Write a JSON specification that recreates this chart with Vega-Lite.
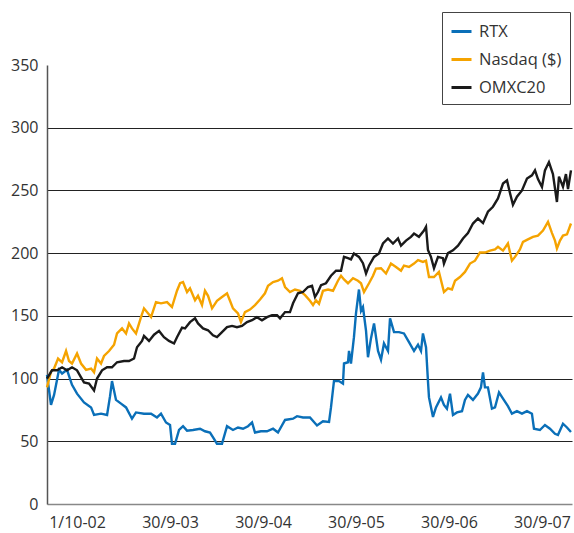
{
  "$schema": "https://vega.github.io/schema/vega-lite/v6.json",
  "width": 525,
  "height": 439,
  "autosize": {"type": "none"},
  "padding": {"left": 47, "top": 65, "right": 2, "bottom": 29},
  "background": "white",
  "config": {"view": {"stroke": null}, "font": "Open Sans"},
  "data": {"values": [
{"s":"RTX","t":2002.427,"v":103},{"s":"RTX","t":2002.470,"v":79},{"s":"RTX","t":2002.503,"v":87},{"s":"RTX","t":2002.556,"v":107},{"s":"RTX","t":2002.589,"v":104},{"s":"RTX","t":2002.642,"v":107},{"s":"RTX","t":2002.696,"v":95},{"s":"RTX","t":2002.750,"v":88},{"s":"RTX","t":2002.825,"v":81},{"s":"RTX","t":2002.901,"v":77},{"s":"RTX","t":2002.933,"v":71},{"s":"RTX","t":2003.008,"v":72},{"s":"RTX","t":2003.073,"v":71},{"s":"RTX","t":2003.105,"v":86},{"s":"RTX","t":2003.126,"v":98},{"s":"RTX","t":2003.169,"v":83},{"s":"RTX","t":2003.223,"v":80},{"s":"RTX","t":2003.277,"v":77},{"s":"RTX","t":2003.341,"v":68},{"s":"RTX","t":2003.384,"v":73},{"s":"RTX","t":2003.470,"v":72},{"s":"RTX","t":2003.546,"v":72},{"s":"RTX","t":2003.610,"v":69},{"s":"RTX","t":2003.653,"v":72},{"s":"RTX","t":2003.707,"v":65},{"s":"RTX","t":2003.750,"v":63},{"s":"RTX","t":2003.771,"v":48},{"s":"RTX","t":2003.804,"v":48},{"s":"RTX","t":2003.847,"v":59},{"s":"RTX","t":2003.890,"v":62},{"s":"RTX","t":2003.933,"v":58.5},{"s":"RTX","t":2003.997,"v":59},{"s":"RTX","t":2004.073,"v":60},{"s":"RTX","t":2004.126,"v":58},{"s":"RTX","t":2004.180,"v":57},{"s":"RTX","t":2004.223,"v":52},{"s":"RTX","t":2004.255,"v":48},{"s":"RTX","t":2004.309,"v":48},{"s":"RTX","t":2004.363,"v":62},{"s":"RTX","t":2004.427,"v":59},{"s":"RTX","t":2004.481,"v":61},{"s":"RTX","t":2004.535,"v":60},{"s":"RTX","t":2004.589,"v":62},{"s":"RTX","t":2004.632,"v":65},{"s":"RTX","t":2004.664,"v":57},{"s":"RTX","t":2004.728,"v":58},{"s":"RTX","t":2004.793,"v":58},{"s":"RTX","t":2004.858,"v":60},{"s":"RTX","t":2004.911,"v":57},{"s":"RTX","t":2004.987,"v":67},{"s":"RTX","t":2005.073,"v":68},{"s":"RTX","t":2005.116,"v":70},{"s":"RTX","t":2005.180,"v":69},{"s":"RTX","t":2005.255,"v":69},{"s":"RTX","t":2005.331,"v":62.6},{"s":"RTX","t":2005.395,"v":66},{"s":"RTX","t":2005.460,"v":65.5},{"s":"RTX","t":2005.481,"v":77},{"s":"RTX","t":2005.513,"v":98},{"s":"RTX","t":2005.567,"v":98},{"s":"RTX","t":2005.610,"v":96},{"s":"RTX","t":2005.621,"v":112},{"s":"RTX","t":2005.664,"v":113},{"s":"RTX","t":2005.675,"v":122},{"s":"RTX","t":2005.696,"v":112},{"s":"RTX","t":2005.728,"v":133},{"s":"RTX","t":2005.750,"v":152},{"s":"RTX","t":2005.782,"v":171},{"s":"RTX","t":2005.804,"v":154},{"s":"RTX","t":2005.825,"v":157},{"s":"RTX","t":2005.858,"v":138},{"s":"RTX","t":2005.879,"v":117},{"s":"RTX","t":2005.911,"v":132},{"s":"RTX","t":2005.944,"v":144},{"s":"RTX","t":2005.987,"v":122},{"s":"RTX","t":2006.019,"v":115},{"s":"RTX","t":2006.051,"v":128},{"s":"RTX","t":2006.094,"v":122},{"s":"RTX","t":2006.116,"v":148},{"s":"RTX","t":2006.159,"v":137},{"s":"RTX","t":2006.212,"v":137},{"s":"RTX","t":2006.266,"v":136},{"s":"RTX","t":2006.320,"v":129},{"s":"RTX","t":2006.374,"v":122},{"s":"RTX","t":2006.417,"v":127},{"s":"RTX","t":2006.449,"v":122},{"s":"RTX","t":2006.470,"v":136},{"s":"RTX","t":2006.503,"v":125},{"s":"RTX","t":2006.524,"v":98},{"s":"RTX","t":2006.535,"v":85},{"s":"RTX","t":2006.578,"v":69.4},{"s":"RTX","t":2006.610,"v":77},{"s":"RTX","t":2006.664,"v":85},{"s":"RTX","t":2006.696,"v":79},{"s":"RTX","t":2006.728,"v":76},{"s":"RTX","t":2006.761,"v":88},{"s":"RTX","t":2006.793,"v":71},{"s":"RTX","t":2006.836,"v":73},{"s":"RTX","t":2006.890,"v":74},{"s":"RTX","t":2006.922,"v":83},{"s":"RTX","t":2006.954,"v":87},{"s":"RTX","t":2007.008,"v":83},{"s":"RTX","t":2007.062,"v":88},{"s":"RTX","t":2007.094,"v":93},{"s":"RTX","t":2007.116,"v":105},{"s":"RTX","t":2007.137,"v":93},{"s":"RTX","t":2007.169,"v":93},{"s":"RTX","t":2007.212,"v":76},{"s":"RTX","t":2007.245,"v":77},{"s":"RTX","t":2007.288,"v":89},{"s":"RTX","t":2007.331,"v":84},{"s":"RTX","t":2007.384,"v":78},{"s":"RTX","t":2007.427,"v":72},{"s":"RTX","t":2007.481,"v":74},{"s":"RTX","t":2007.535,"v":72},{"s":"RTX","t":2007.589,"v":74},{"s":"RTX","t":2007.642,"v":72},{"s":"RTX","t":2007.664,"v":60},{"s":"RTX","t":2007.728,"v":59},{"s":"RTX","t":2007.782,"v":63},{"s":"RTX","t":2007.836,"v":60},{"s":"RTX","t":2007.890,"v":56},{"s":"RTX","t":2007.922,"v":55},{"s":"RTX","t":2007.976,"v":64},{"s":"RTX","t":2008.019,"v":61},{"s":"RTX","t":2008.062,"v":57.4},
{"s":"Nasdaq ($)","t":2002.427,"v":93},{"s":"Nasdaq ($)","t":2002.470,"v":105.5},{"s":"Nasdaq ($)","t":2002.503,"v":108},{"s":"Nasdaq ($)","t":2002.546,"v":116},{"s":"Nasdaq ($)","t":2002.589,"v":113},{"s":"Nasdaq ($)","t":2002.632,"v":122},{"s":"Nasdaq ($)","t":2002.664,"v":114},{"s":"Nasdaq ($)","t":2002.696,"v":112},{"s":"Nasdaq ($)","t":2002.750,"v":120},{"s":"Nasdaq ($)","t":2002.793,"v":112},{"s":"Nasdaq ($)","t":2002.847,"v":107},{"s":"Nasdaq ($)","t":2002.901,"v":108},{"s":"Nasdaq ($)","t":2002.933,"v":105},{"s":"Nasdaq ($)","t":2002.965,"v":116},{"s":"Nasdaq ($)","t":2003.008,"v":112},{"s":"Nasdaq ($)","t":2003.040,"v":118},{"s":"Nasdaq ($)","t":2003.094,"v":122},{"s":"Nasdaq ($)","t":2003.148,"v":127},{"s":"Nasdaq ($)","t":2003.180,"v":136},{"s":"Nasdaq ($)","t":2003.234,"v":140},{"s":"Nasdaq ($)","t":2003.277,"v":136},{"s":"Nasdaq ($)","t":2003.309,"v":144},{"s":"Nasdaq ($)","t":2003.341,"v":140},{"s":"Nasdaq ($)","t":2003.384,"v":136},{"s":"Nasdaq ($)","t":2003.438,"v":149},{"s":"Nasdaq ($)","t":2003.470,"v":156},{"s":"Nasdaq ($)","t":2003.546,"v":149},{"s":"Nasdaq ($)","t":2003.599,"v":161},{"s":"Nasdaq ($)","t":2003.653,"v":160},{"s":"Nasdaq ($)","t":2003.718,"v":161},{"s":"Nasdaq ($)","t":2003.771,"v":157},{"s":"Nasdaq ($)","t":2003.825,"v":170},{"s":"Nasdaq ($)","t":2003.858,"v":176},{"s":"Nasdaq ($)","t":2003.890,"v":177},{"s":"Nasdaq ($)","t":2003.933,"v":169},{"s":"Nasdaq ($)","t":2003.965,"v":172},{"s":"Nasdaq ($)","t":2004.019,"v":162.5},{"s":"Nasdaq ($)","t":2004.051,"v":166},{"s":"Nasdaq ($)","t":2004.094,"v":158.6},{"s":"Nasdaq ($)","t":2004.126,"v":170},{"s":"Nasdaq ($)","t":2004.159,"v":166},{"s":"Nasdaq ($)","t":2004.202,"v":156},{"s":"Nasdaq ($)","t":2004.255,"v":162},{"s":"Nasdaq ($)","t":2004.309,"v":165},{"s":"Nasdaq ($)","t":2004.363,"v":168},{"s":"Nasdaq ($)","t":2004.395,"v":162},{"s":"Nasdaq ($)","t":2004.427,"v":156},{"s":"Nasdaq ($)","t":2004.481,"v":152},{"s":"Nasdaq ($)","t":2004.513,"v":145},{"s":"Nasdaq ($)","t":2004.556,"v":153},{"s":"Nasdaq ($)","t":2004.610,"v":155},{"s":"Nasdaq ($)","t":2004.664,"v":158.6},{"s":"Nasdaq ($)","t":2004.718,"v":163},{"s":"Nasdaq ($)","t":2004.771,"v":168},{"s":"Nasdaq ($)","t":2004.804,"v":174},{"s":"Nasdaq ($)","t":2004.858,"v":177},{"s":"Nasdaq ($)","t":2004.911,"v":178},{"s":"Nasdaq ($)","t":2004.954,"v":180},{"s":"Nasdaq ($)","t":2004.987,"v":173},{"s":"Nasdaq ($)","t":2005.040,"v":169},{"s":"Nasdaq ($)","t":2005.094,"v":171},{"s":"Nasdaq ($)","t":2005.148,"v":170},{"s":"Nasdaq ($)","t":2005.202,"v":166.5},{"s":"Nasdaq ($)","t":2005.255,"v":162},{"s":"Nasdaq ($)","t":2005.288,"v":158.6},{"s":"Nasdaq ($)","t":2005.320,"v":162.5},{"s":"Nasdaq ($)","t":2005.352,"v":159.7},{"s":"Nasdaq ($)","t":2005.395,"v":170},{"s":"Nasdaq ($)","t":2005.449,"v":171},{"s":"Nasdaq ($)","t":2005.503,"v":170},{"s":"Nasdaq ($)","t":2005.556,"v":178},{"s":"Nasdaq ($)","t":2005.589,"v":182},{"s":"Nasdaq ($)","t":2005.621,"v":179},{"s":"Nasdaq ($)","t":2005.664,"v":176},{"s":"Nasdaq ($)","t":2005.718,"v":180},{"s":"Nasdaq ($)","t":2005.771,"v":178},{"s":"Nasdaq ($)","t":2005.804,"v":176},{"s":"Nasdaq ($)","t":2005.836,"v":169},{"s":"Nasdaq ($)","t":2005.890,"v":176},{"s":"Nasdaq ($)","t":2005.933,"v":182},{"s":"Nasdaq ($)","t":2005.965,"v":187.7},{"s":"Nasdaq ($)","t":2006.019,"v":188},{"s":"Nasdaq ($)","t":2006.073,"v":183.8},{"s":"Nasdaq ($)","t":2006.126,"v":191.7},{"s":"Nasdaq ($)","t":2006.180,"v":189},{"s":"Nasdaq ($)","t":2006.234,"v":186},{"s":"Nasdaq ($)","t":2006.266,"v":190},{"s":"Nasdaq ($)","t":2006.320,"v":189},{"s":"Nasdaq ($)","t":2006.374,"v":191.7},{"s":"Nasdaq ($)","t":2006.417,"v":194.4},{"s":"Nasdaq ($)","t":2006.470,"v":193},{"s":"Nasdaq ($)","t":2006.503,"v":194},{"s":"Nasdaq ($)","t":2006.535,"v":181},{"s":"Nasdaq ($)","t":2006.589,"v":181},{"s":"Nasdaq ($)","t":2006.642,"v":185},{"s":"Nasdaq ($)","t":2006.696,"v":169},{"s":"Nasdaq ($)","t":2006.739,"v":172},{"s":"Nasdaq ($)","t":2006.782,"v":171},{"s":"Nasdaq ($)","t":2006.815,"v":178},{"s":"Nasdaq ($)","t":2006.868,"v":181},{"s":"Nasdaq ($)","t":2006.922,"v":185},{"s":"Nasdaq ($)","t":2006.976,"v":191.7},{"s":"Nasdaq ($)","t":2007.030,"v":194},{"s":"Nasdaq ($)","t":2007.083,"v":200.5},{"s":"Nasdaq ($)","t":2007.137,"v":200.5},{"s":"Nasdaq ($)","t":2007.191,"v":202},{"s":"Nasdaq ($)","t":2007.245,"v":203},{"s":"Nasdaq ($)","t":2007.277,"v":205},{"s":"Nasdaq ($)","t":2007.331,"v":202},{"s":"Nasdaq ($)","t":2007.384,"v":207.7},{"s":"Nasdaq ($)","t":2007.427,"v":194},{"s":"Nasdaq ($)","t":2007.460,"v":197},{"s":"Nasdaq ($)","t":2007.513,"v":203},{"s":"Nasdaq ($)","t":2007.546,"v":209},{"s":"Nasdaq ($)","t":2007.599,"v":211},{"s":"Nasdaq ($)","t":2007.653,"v":213},{"s":"Nasdaq ($)","t":2007.707,"v":214},{"s":"Nasdaq ($)","t":2007.761,"v":218},{"s":"Nasdaq ($)","t":2007.815,"v":225},{"s":"Nasdaq ($)","t":2007.858,"v":216},{"s":"Nasdaq ($)","t":2007.890,"v":210},{"s":"Nasdaq ($)","t":2007.911,"v":203.7},{"s":"Nasdaq ($)","t":2007.944,"v":210},{"s":"Nasdaq ($)","t":2007.976,"v":214},{"s":"Nasdaq ($)","t":2008.019,"v":215},{"s":"Nasdaq ($)","t":2008.062,"v":223.6},
{"s":"OMXC20","t":2002.427,"v":100},{"s":"OMXC20","t":2002.481,"v":106.6},{"s":"OMXC20","t":2002.535,"v":106.6},{"s":"OMXC20","t":2002.589,"v":109},{"s":"OMXC20","t":2002.642,"v":106.6},{"s":"OMXC20","t":2002.696,"v":109},{"s":"OMXC20","t":2002.750,"v":106.6},{"s":"OMXC20","t":2002.793,"v":101},{"s":"OMXC20","t":2002.825,"v":97},{"s":"OMXC20","t":2002.879,"v":96},{"s":"OMXC20","t":2002.933,"v":90.5},{"s":"OMXC20","t":2002.965,"v":100},{"s":"OMXC20","t":2003.019,"v":106.6},{"s":"OMXC20","t":2003.073,"v":109},{"s":"OMXC20","t":2003.126,"v":109},{"s":"OMXC20","t":2003.180,"v":113},{"s":"OMXC20","t":2003.255,"v":114},{"s":"OMXC20","t":2003.309,"v":114},{"s":"OMXC20","t":2003.363,"v":116},{"s":"OMXC20","t":2003.395,"v":125},{"s":"OMXC20","t":2003.449,"v":130},{"s":"OMXC20","t":2003.470,"v":134},{"s":"OMXC20","t":2003.524,"v":130},{"s":"OMXC20","t":2003.578,"v":135},{"s":"OMXC20","t":2003.632,"v":138},{"s":"OMXC20","t":2003.685,"v":133},{"s":"OMXC20","t":2003.739,"v":130},{"s":"OMXC20","t":2003.793,"v":128},{"s":"OMXC20","t":2003.825,"v":133},{"s":"OMXC20","t":2003.879,"v":140.6},{"s":"OMXC20","t":2003.911,"v":140},{"s":"OMXC20","t":2003.965,"v":145},{"s":"OMXC20","t":2004.019,"v":148},{"s":"OMXC20","t":2004.051,"v":144},{"s":"OMXC20","t":2004.105,"v":140},{"s":"OMXC20","t":2004.159,"v":138.5},{"s":"OMXC20","t":2004.212,"v":134.5},{"s":"OMXC20","t":2004.255,"v":133},{"s":"OMXC20","t":2004.309,"v":137},{"s":"OMXC20","t":2004.363,"v":141},{"s":"OMXC20","t":2004.417,"v":142},{"s":"OMXC20","t":2004.470,"v":141},{"s":"OMXC20","t":2004.524,"v":142},{"s":"OMXC20","t":2004.578,"v":145},{"s":"OMXC20","t":2004.632,"v":146.5},{"s":"OMXC20","t":2004.685,"v":149},{"s":"OMXC20","t":2004.739,"v":146.5},{"s":"OMXC20","t":2004.793,"v":149},{"s":"OMXC20","t":2004.847,"v":150.5},{"s":"OMXC20","t":2004.901,"v":150.5},{"s":"OMXC20","t":2004.933,"v":148},{"s":"OMXC20","t":2004.987,"v":153},{"s":"OMXC20","t":2005.040,"v":153},{"s":"OMXC20","t":2005.073,"v":160},{"s":"OMXC20","t":2005.126,"v":168},{"s":"OMXC20","t":2005.180,"v":169},{"s":"OMXC20","t":2005.234,"v":173},{"s":"OMXC20","t":2005.277,"v":174},{"s":"OMXC20","t":2005.309,"v":165},{"s":"OMXC20","t":2005.341,"v":169},{"s":"OMXC20","t":2005.374,"v":174.4},{"s":"OMXC20","t":2005.427,"v":176},{"s":"OMXC20","t":2005.481,"v":182},{"s":"OMXC20","t":2005.535,"v":186},{"s":"OMXC20","t":2005.589,"v":186},{"s":"OMXC20","t":2005.621,"v":197},{"s":"OMXC20","t":2005.664,"v":196},{"s":"OMXC20","t":2005.696,"v":195},{"s":"OMXC20","t":2005.728,"v":199.7},{"s":"OMXC20","t":2005.782,"v":197},{"s":"OMXC20","t":2005.825,"v":192},{"s":"OMXC20","t":2005.858,"v":183.7},{"s":"OMXC20","t":2005.890,"v":190},{"s":"OMXC20","t":2005.944,"v":197},{"s":"OMXC20","t":2005.997,"v":199.7},{"s":"OMXC20","t":2006.040,"v":207.7},{"s":"OMXC20","t":2006.094,"v":211.7},{"s":"OMXC20","t":2006.148,"v":207.7},{"s":"OMXC20","t":2006.202,"v":211.7},{"s":"OMXC20","t":2006.234,"v":206},{"s":"OMXC20","t":2006.288,"v":210},{"s":"OMXC20","t":2006.341,"v":213},{"s":"OMXC20","t":2006.374,"v":215.6},{"s":"OMXC20","t":2006.427,"v":213},{"s":"OMXC20","t":2006.481,"v":218},{"s":"OMXC20","t":2006.503,"v":221},{"s":"OMXC20","t":2006.524,"v":202.6},{"s":"OMXC20","t":2006.556,"v":197},{"s":"OMXC20","t":2006.589,"v":188},{"s":"OMXC20","t":2006.632,"v":197},{"s":"OMXC20","t":2006.685,"v":196},{"s":"OMXC20","t":2006.696,"v":191.7},{"s":"OMXC20","t":2006.739,"v":200},{"s":"OMXC20","t":2006.793,"v":202.3},{"s":"OMXC20","t":2006.847,"v":206},{"s":"OMXC20","t":2006.901,"v":211.7},{"s":"OMXC20","t":2006.954,"v":216},{"s":"OMXC20","t":2007.008,"v":223.6},{"s":"OMXC20","t":2007.062,"v":227.6},{"s":"OMXC20","t":2007.116,"v":224},{"s":"OMXC20","t":2007.169,"v":233},{"s":"OMXC20","t":2007.223,"v":237},{"s":"OMXC20","t":2007.277,"v":243.6},{"s":"OMXC20","t":2007.331,"v":255.5},{"s":"OMXC20","t":2007.374,"v":258},{"s":"OMXC20","t":2007.406,"v":248},{"s":"OMXC20","t":2007.438,"v":238.5},{"s":"OMXC20","t":2007.481,"v":245},{"s":"OMXC20","t":2007.535,"v":250},{"s":"OMXC20","t":2007.589,"v":259.5},{"s":"OMXC20","t":2007.642,"v":262},{"s":"OMXC20","t":2007.675,"v":266},{"s":"OMXC20","t":2007.707,"v":259},{"s":"OMXC20","t":2007.750,"v":252.7},{"s":"OMXC20","t":2007.782,"v":266},{"s":"OMXC20","t":2007.825,"v":272.6},{"s":"OMXC20","t":2007.868,"v":263},{"s":"OMXC20","t":2007.911,"v":240.8},{"s":"OMXC20","t":2007.933,"v":261},{"s":"OMXC20","t":2007.976,"v":253},{"s":"OMXC20","t":2008.008,"v":263},{"s":"OMXC20","t":2008.030,"v":251},{"s":"OMXC20","t":2008.062,"v":266}
  ]},
  "mark": {"type": "line", "strokeWidth": 2.4},
  "encoding": {
    "x": {"field": "t", "type": "quantitative", "scale": {"domain": [2002.427, 2008.073], "nice": false, "zero": false},
      "axis": {"title": null, "values": [2002.75, 2003.75, 2004.75, 2005.75, 2006.75, 2007.75],
        "labelExpr": "['1/10-02','30/9-03','30/9-04','30/9-05','30/9-06','30/9-07'][round(datum.value - 2002.75)]",
        "ticks": false, "grid": false, "domainColor": "#888888", "domainWidth": 1.5,
        "labelFontSize": 16, "labelColor": "#333333", "labelPadding": 10, "labelFont": "Open Sans"}},
    "y": {"field": "v", "type": "quantitative", "scale": {"domain": [0, 350], "nice": false},
      "axis": {"title": null, "values": [0, 50, 100, 150, 200, 250, 300, 350], "ticks": false,
        "grid": true, "gridColor": "#222222", "gridWidth": 1.2,
        "gridOpacity": {"condition": {"test": "datum.value === 0 || datum.value === 350", "value": 0}, "value": 1},
        "domainColor": "#555555", "domainWidth": 1.5,
        "labelFontSize": 16, "labelColor": "#333333", "labelPadding": 9, "labelFont": "Open Sans"}},
    "color": {"field": "s", "type": "nominal",
      "scale": {"domain": ["RTX", "Nasdaq ($)", "OMXC20"], "range": ["#0a6fb8", "#f5a300", "#1a1a1a"]},
      "legend": {"title": null, "orient": "none", "legendX": 395, "legendY": -53,
        "strokeColor": "#444444", "fillColor": "white", "padding": 8,
        "symbolType": "stroke", "symbolSize": 400, "symbolStrokeWidth": 3,
        "labelFontSize": 16.5, "labelColor": "#333333", "labelFont": "Open Sans", "rowPadding": 8, "labelOffset": 6}}
  }
}
